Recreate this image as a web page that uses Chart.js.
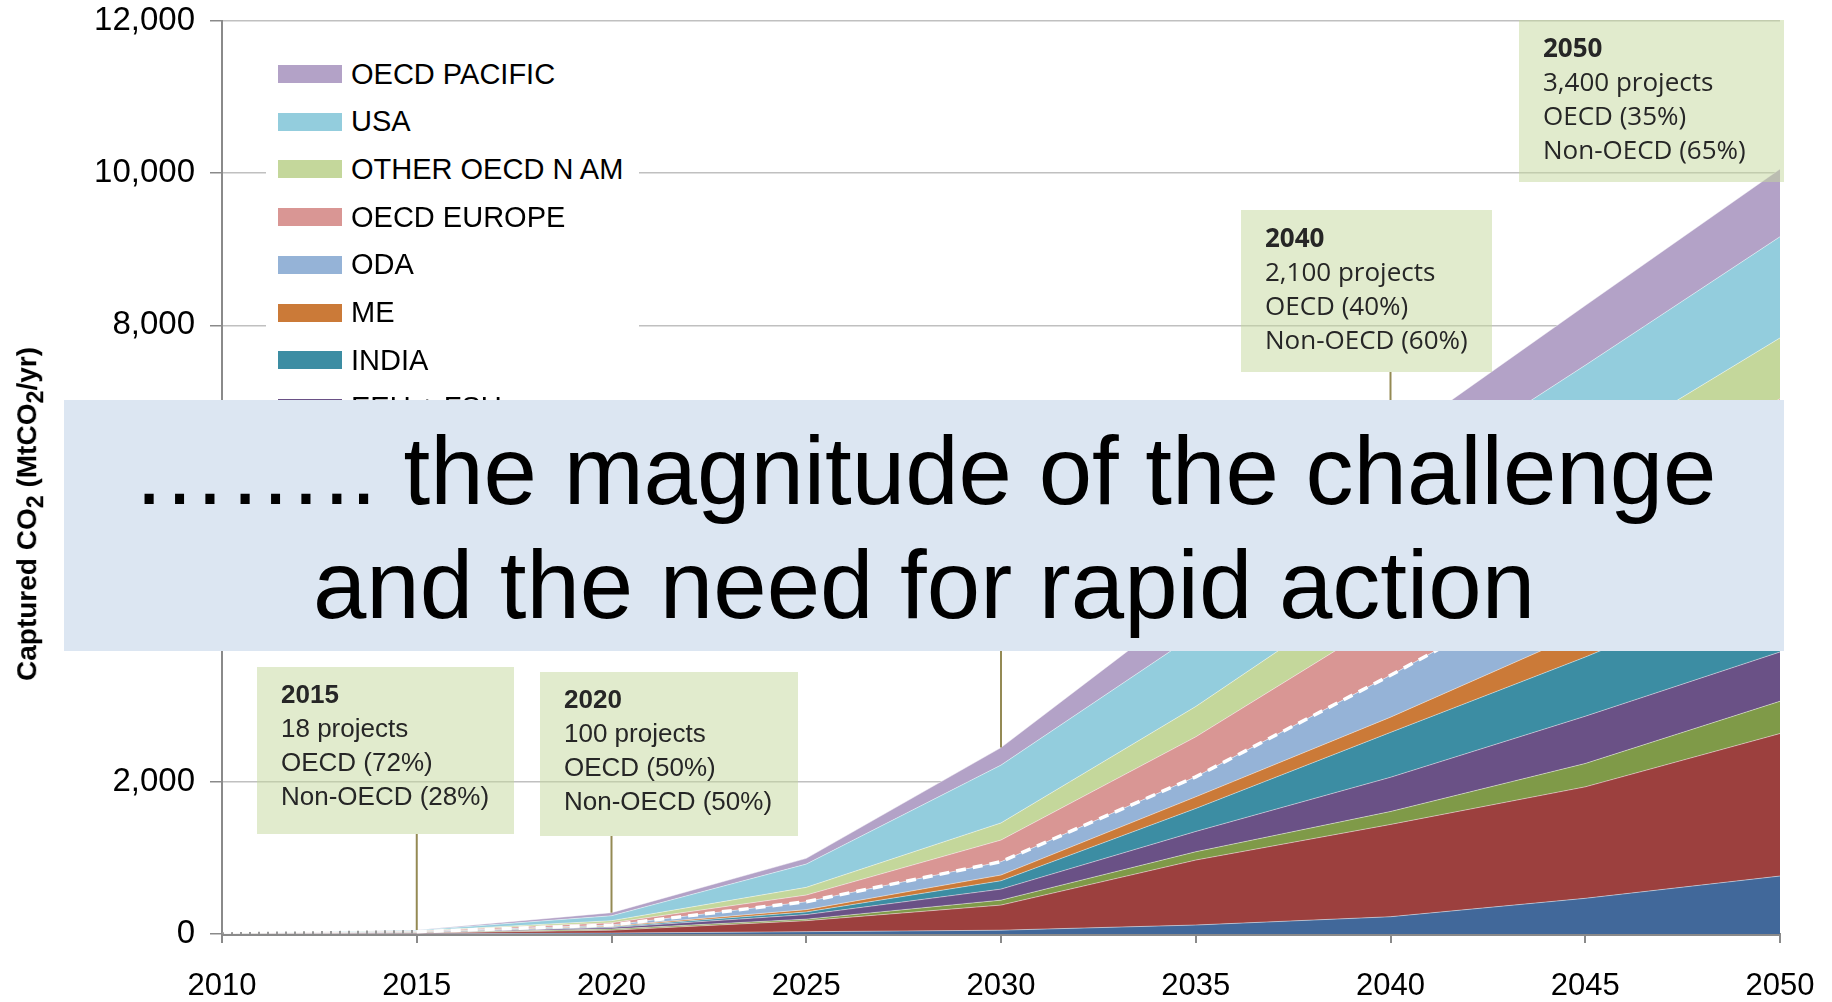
<!DOCTYPE html>
<html>
<head>
<meta charset="utf-8">
<title>Captured CO2 by region</title>
<script src="https://cdn.jsdelivr.net/npm/chart.js@4.4.0/dist/chart.umd.min.js"></script>
<style>
    body { margin: 0; background: #fff; }
    #wrap { position: relative; width: 1832px; height: 1002px; overflow: hidden; font-family: 'Liberation Sans', Arial, sans-serif; }
    #chart { position: absolute; left: 0; top: 0; }
    .ytitle { position: absolute; left: 30px; top: 514px; transform: translate(-50%, -50%) rotate(-90deg); font-weight: bold; font-size: 28px; white-space: nowrap; color: #000; }
    .legend { position: absolute; left: 266px; top: 45px; width: 373px; height: 380px; background: #fff; }
    .legend .item { position: absolute; left: 12px; height: 30px; display: flex; align-items: center; font-size: 29px; color: #000; white-space: nowrap; }
    .legend .sw { width: 64px; height: 18px; margin-right: 9px; }
    .note { position: absolute; box-sizing: border-box; background: rgba(196, 215, 155, 0.5); color: #262626; padding-top: 10px; line-height: 34px; white-space: nowrap; }
    .note b { display: block; }
    .note.calibri { font-family: 'Liberation Sans', Arial, sans-serif; font-size: 26px; }
    .note.segoe { font-family: 'Open Sans', sans-serif; font-size: 26px; }
    .overlay { position: absolute; left: 64px; top: 400px; width: 1720px; height: 251px; box-sizing: border-box; padding-top: 14px; background: #dce6f2; color: #000; text-align: center; font-size: 96px; line-height: 114px; }
</style>
</head>
<body>
<div id="wrap">
    <canvas id="chart" width="1832" height="1002"></canvas>
    <div class="ytitle">Captured CO<sub>2</sub> (MtCO<sub>2</sub>/yr)</div>
    <div class="legend" id="legend"></div>
    <div id="notes"></div>
    <div class="overlay">…….. the magnitude of the challenge<br>and the need for rapid action</div>
</div>
<script>
// Years on the x axis
const years = ['2010', '2015', '2020', '2025', '2030', '2035', '2040', '2045', '2050'];

// Captured CO2 per region (MtCO2/yr), stacked from the bottom up
const africa       = [0, 3, 12, 30, 50, 118, 227, 469, 762];
const china        = [0, 9, 38, 145, 330, 854, 1213, 1465, 1873];
const csa          = [0, 3, 15, 20, 65, 109, 170, 307, 424];
const eeuFsu       = [0, 5, 20, 60, 145, 267, 450, 621, 648];
const india        = [0, 3, 10, 35, 110, 302, 590, 778, 993];
const me           = [0, 3, 10, 30, 75, 153, 200, 339, 350];
const oda          = [0, 4, 13, 104, 175, 263, 550, 813, 950];
const oecdEurope   = [0, 6, 30, 88, 285, 525, 770, 838, 1035];
const otherOecdNAm = [0, 4, 27, 101, 225, 399, 550, 651, 800];
const usa          = [0, 8, 65, 306, 760, 950, 1097, 1194, 1330];
const oecdPacific  = [0, 4, 40, 75, 230, 460, 633, 785, 889];

// Non-OECD total (white dashed line)
const nonOecdTotal = [0, 30, 118, 424, 950, 2066, 3400, 4792, 6000];

// Y axis ticks
const yTicks = [0, 2000, 4000, 6000, 8000, 10000, 12000];

const regions = [
    { label: 'AFRICA', data: africa, color: '#41689a' },
    { label: 'CHINA', data: china, color: '#9c403e' },
    { label: 'CSA', data: csa, color: '#7f9a48' },
    { label: 'EEU + FSU', data: eeuFsu, color: '#6a5186' },
    { label: 'INDIA', data: india, color: '#3c8da3' },
    { label: 'ME', data: me, color: '#cb7a38' },
    { label: 'ODA', data: oda, color: '#95b3d7' },
    { label: 'OECD EUROPE', data: oecdEurope, color: '#d99694' },
    { label: 'OTHER OECD N AM', data: otherOecdNAm, color: '#c4d79b' },
    { label: 'USA', data: usa, color: '#93cddd' },
    { label: 'OECD PACIFIC', data: oecdPacific, color: '#b3a2c7' }
];

// Annotation boxes (year index, box placement, text)
const notes = [
    { idx: 1, left: 257, top: 667, w: 257, h: 167, cls: 'calibri', lines: ['2015', '18 projects', 'OECD (72%)', 'Non-OECD (28%)'] },
    { idx: 2, left: 540, top: 672, w: 258, h: 164, cls: 'calibri', lines: ['2020', '100 projects', 'OECD (50%)', 'Non-OECD (50%)'] },
    { idx: 4, left: null, from: 560 },
    { idx: 6, left: 1241, top: 210, w: 251, h: 162, cls: 'segoe', lines: ['2040', '2,100 projects', 'OECD (40%)', 'Non-OECD (60%)'] },
    { idx: 8, left: 1519, top: 20, w: 265, h: 162, cls: 'segoe', lines: ['2050', '3,400 projects', 'OECD (35%)', 'Non-OECD (65%)'], noLine: true }
];

const datasets = regions.map((r, i) => ({
    label: r.label,
    data: r.data,
    backgroundColor: r.color,
    borderColor: 'rgba(255,255,255,0.45)',
    borderWidth: 1,
    pointRadius: 0,
    tension: 0,
    fill: i === 0 ? 'origin' : '-1'
}));

datasets.push({
    label: 'Non-OECD',
    data: nonOecdTotal,
    stack: 'dash',
    order: -1,
    fill: false,
    pointRadius: 0,
    borderWidth: 3.5,
    borderColor: '#fff',
    segment: {
        borderColor: ctx => ctx.p0DataIndex === 0 ? '#9a9a9a' : '#fff',
        borderDash: ctx => ctx.p0DataIndex === 0 ? [2, 7] : [10, 7]
    }
});

// Connector lines from the annotation boxes down to the top of the stack
const connectorPlugin = {
    id: 'connectors',
    afterDatasetsDraw(chart) {
        const ctx = chart.ctx;
        const xScale = chart.scales.x;
        const topMeta = chart.getDatasetMeta(regions.length - 1);
        ctx.save();
        ctx.strokeStyle = '#948a54';
        ctx.lineWidth = 2;
        notes.forEach(n => {
            if (n.noLine) return;
            const from = n.left === null ? n.from : n.top + n.h;
            const px = xScale.getPixelForValue(n.idx);
            const py = topMeta.data[n.idx].y;
            ctx.beginPath();
            ctx.moveTo(px, from);
            ctx.lineTo(px, py);
            ctx.stroke();
        });
        ctx.restore();
    }
};

Chart.defaults.font.family = "'Liberation Sans', Arial, sans-serif";
Chart.defaults.color = '#000';

const chart = new Chart(document.getElementById('chart').getContext('2d'), {
    type: 'line',
    data: { labels: years, datasets: datasets },
    options: {
        responsive: false,
        animation: false,
        devicePixelRatio: 1,
        layout: { padding: { top: 21, right: 52, left: 0, bottom: 0 } },
        plugins: {
            legend: { display: false },
            tooltip: { enabled: false }
        },
        scales: {
            x: {
                type: 'category',
                offset: false,
                afterFit: s => { s.height = 68; s.paddingLeft = 0; s.paddingRight = 0; },
                grid: { drawOnChartArea: false, drawTicks: true, tickLength: 9, color: '#8a8a8a', lineWidth: 2 },
                border: { display: true, color: '#8a8a8a', width: 3 },
                ticks: { font: { size: 31 }, padding: 25, maxRotation: 0, autoSkip: false }
            },
            y: {
                stacked: true,
                min: 0,
                max: 12000,
                afterFit: s => { s.width = 222; s.paddingTop = 0; s.paddingBottom = 0; },
                afterBuildTicks: s => { s.ticks = yTicks.map(v => ({ value: v })); },
                grid: { color: '#c0c0c0', lineWidth: 1.5, tickLength: 12, tickColor: '#8a8a8a' },
                border: { display: true, color: '#8a8a8a', width: 2 },
                ticks: {
                    font: { size: 33 },
                    padding: 15,
                    callback: v => v.toLocaleString('en-US')
                }
            }
        }
    },
    plugins: [connectorPlugin]
});

// Legend (top entry first, same order as the stack from the top)
const legend = document.getElementById('legend');
regions.slice().reverse().forEach((r, i) => {
    const item = document.createElement('div');
    item.className = 'item';
    item.style.top = (14 + i * 47.7) + 'px';
    item.innerHTML = `<span class="sw" style="background:${r.color}"></span>${r.label}`;
    legend.appendChild(item);
});

// Annotation boxes
const notesEl = document.getElementById('notes');
notes.forEach(n => {
    if (n.left === null) return;
    const box = document.createElement('div');
    box.className = 'note ' + n.cls;
    box.style.left = n.left + 'px';
    box.style.top = n.top + 'px';
    box.style.width = n.w + 'px';
    box.style.height = n.h + 'px';
    box.style.paddingLeft = '24px';
    box.innerHTML = `<b>${n.lines[0]}</b>${n.lines.slice(1).join('<br>')}`;
    notesEl.appendChild(box);
});
</script>
</body>
</html>
